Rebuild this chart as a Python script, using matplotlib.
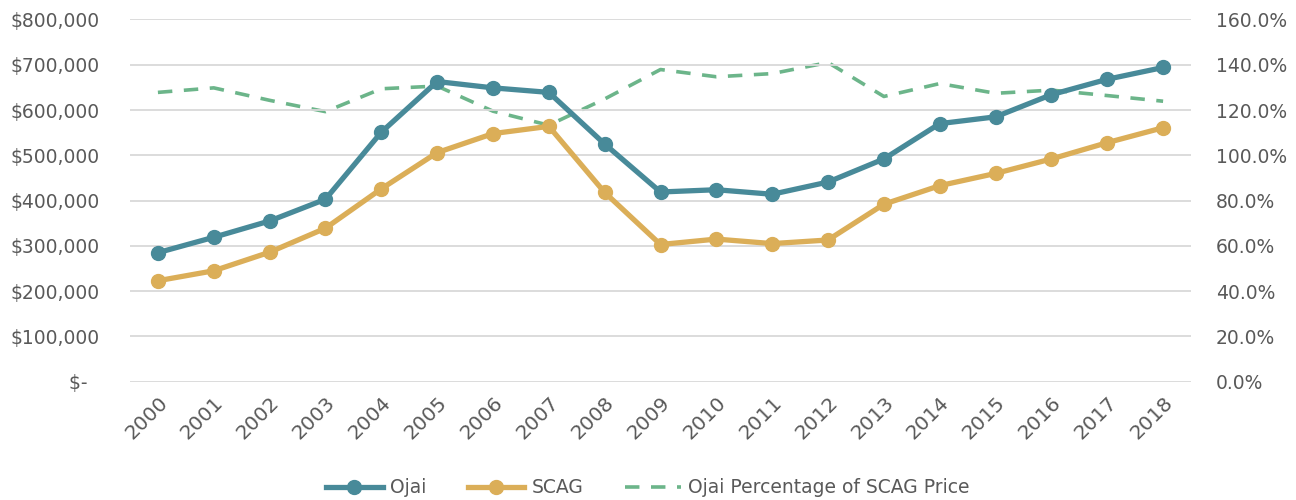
import matplotlib.pyplot as plt
import numpy as np
from matplotlib.ticker import FuncFormatter

years = ['2000', '2001', '2002', '2003', '2004', '2005', '2006', '2007', '2008', '2009',
         '2010', '2011', '2012', '2013', '2014', '2015', '2016', '2017', '2018']
ojai = [285000, 319000, 355000, 403000, 551000, 663000, 649000, 639000, 525000, 419000,
        424000, 414000, 441000, 492000, 570000, 585000, 634000, 668000, 694000]
scag = [223000, 245000, 286000, 339000, 426000, 506000, 548000, 564000, 418000, 303000,
        315000, 305000, 313000, 392000, 433000, 460000, 492000, 528000, 561000]
pct = [127.8, 129.8, 124.3, 119.3, 129.4, 130.6, 119.5, 113.3, 124.9, 137.9,
       134.7, 136.1, 141.0, 126.0, 131.7, 127.4, 128.8, 126.4, 123.9]

text_color = '#595959'
plt.rcParams['font.family'] = 'DejaVu Sans'

fig = plt.figure(figsize=(12.96, 5), dpi=100)
ax = fig.add_axes([0.1003, 0.2366, 0.8187, 0.7244])
ax2 = ax.twinx()

x = np.arange(len(years))

ax.set_ylim(0, 800000)
ax.set_yticks(np.arange(0, 800001, 100000))
ax.yaxis.set_major_formatter(FuncFormatter(lambda v, p: '$-  ' if v == 0 else '${:,.0f}'.format(v)))
ax.grid(axis='y', color='#d9d9d9', linewidth=1.3)
ax.set_axisbelow(True)

ax2.set_ylim(0, 160)
ax2.set_yticks(np.arange(0, 161, 20))
ax2.yaxis.set_major_formatter(FuncFormatter(lambda v, p: '{:.1f}%'.format(v)))

ax2.plot(x, pct, color='#6cb58a', linewidth=2.6, dashes=(4, 3.2),
         label='Ojai Percentage of SCAG Price', zorder=1)
ax.plot(x, ojai, color='#488a99', linewidth=3.8, marker='o', markersize=10,
        label='Ojai', zorder=3)
ax.plot(x, scag, color='#dbae58', linewidth=3.8, marker='o', markersize=10,
        label='SCAG', zorder=3)
ax.set_zorder(ax2.get_zorder() + 1)
ax.patch.set_visible(False)

ax.set_xlim(-0.5, len(years) - 0.5)
ax.set_xticks(x)
ax.set_xticklabels(years, rotation=45, ha='right', rotation_mode='anchor')

for a in (ax, ax2):
    for s in a.spines.values():
        s.set_visible(False)
    a.tick_params(length=0, labelsize=13.5, colors=text_color)
ax.tick_params(axis='y', pad=22)
ax2.tick_params(axis='y', pad=18)
ax.tick_params(axis='x', pad=8, labelsize=14.5)

h1, l1 = ax.get_legend_handles_labels()
h2, l2 = ax2.get_legend_handles_labels()
fig.legend(h1 + h2, l1 + l2, loc='lower center', bbox_to_anchor=(0.5, -0.028), ncol=3,
           frameon=False, fontsize=13.5, labelcolor=text_color, handlelength=3,
           columnspacing=2.2, handletextpad=0.4)

fig.savefig('out.png', dpi=100)
